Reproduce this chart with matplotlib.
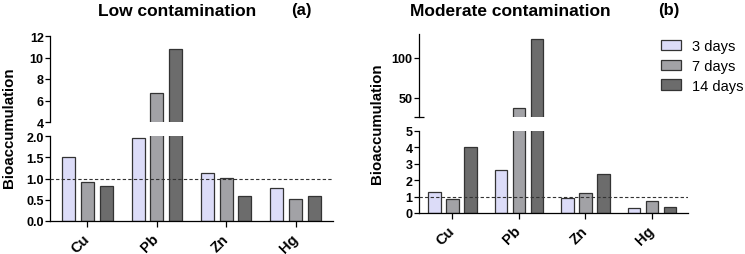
import numpy as np
import matplotlib
matplotlib.use('Agg')
import matplotlib.pyplot as plt

plt.rcParams['font.family'] = ['Liberation Sans', 'DejaVu Sans']

# data
metals = ['Cu', 'Pb', 'Zn', 'Hg']
series = ['3 days', '7 days', '14 days']
colors = ['#dcdcf8', '#a2a2a6', '#6c6c6c']

low_3d = [1.5, 1.95, 1.12, 0.78]
low_7d = [0.92, 6.7, 1.01, 0.52]
low_14d = [0.82, 10.8, 0.59, 0.60]

mod_3d = [1.3, 2.6, 0.9, 0.3]
mod_7d = [0.85, 37.5, 1.25, 0.75]
mod_14d = [4.0, 124.0, 2.4, 0.35]

W, H = 745, 255
fig = plt.figure(figsize=(W / 100, H / 100), dpi=100)


def px_axes(x0, x1, y0, y1):
    # pixel box (from top-left) -> figure axes
    return fig.add_axes([x0 / W, 1 - y1 / H, (x1 - x0) / W, (y1 - y0) / H])


def draw_panel(ax_up, ax_lo, vals, up_lim, up_ticks, lo_lim, lo_ticks, lo_fmt, xlim, cap=False):
    x = np.arange(len(metals))
    off = [-0.27, 0, 0.27]
    for ax in (ax_up, ax_lo):
        for i, v in enumerate(vals):
            ax.bar(x + off[i], v, width=0.19, color=colors[i], edgecolor='#333333',
                   linewidth=0.9, label=series[i])
        ax.set_xlim(*xlim)
        ax.spines['top'].set_visible(False)
        ax.spines['right'].set_visible(False)
        ax.tick_params(axis='y', labelsize=9, width=0.9, length=3.5, pad=1)
    ax_up.set_ylim(*up_lim)
    ax_up.set_yticks(up_ticks)
    ax_up.set_yticklabels([str(t) for t in up_ticks], fontweight='bold')
    ax_up.spines['bottom'].set_visible(False)
    ax_up.set_xticks([])
    ax_lo.set_ylim(*lo_lim)
    ax_lo.set_yticks(lo_ticks)
    ax_lo.set_yticklabels([lo_fmt.format(t) for t in lo_ticks], fontweight='bold')
    ax_lo.set_xticks(x)
    ax_lo.set_xticklabels(metals, rotation=45, ha='right', va='center', rotation_mode='anchor',
                          fontweight='bold', fontsize=10.5)
    ax_lo.tick_params(axis='x', length=4, width=0.9, pad=7)
    ax_lo.axhline(1.0, color='#333333', linestyle=(0, (3, 2)), linewidth=0.8, zorder=3)
    for ax in (ax_up, ax_lo):
        for s in ax.spines.values():
            s.set_linewidth(0.9)
    if cap:
        ax_up.set_yticks([up_lim[0]], minor=True)
        ax_up.tick_params(axis='y', which='minor', direction='inout', length=7, width=0.9)


# (a) low contamination
a_up = px_axes(50, 333, 37, 123)
a_lo = px_axes(50, 333, 137, 222)
draw_panel(a_up, a_lo, [low_3d, low_7d, low_14d], (4, 12), [4, 6, 8, 10, 12],
           (0, 2), [0, 0.5, 1.0, 1.5, 2.0], '{:.1f}', (-0.54, 3.54))

# (b) moderate contamination
b_up = px_axes(419, 688, 35, 118)
b_lo = px_axes(419, 688, 132, 214)
draw_panel(b_up, b_lo, [mod_3d, mod_7d, mod_14d], (26, 130), [50, 100],
           (0, 5), [0, 1, 2, 3, 4, 5], '{:.0f}', (-0.5, 3.54), cap=True)

fig.text(177 / W, 1 - 11 / H, 'Low contamination', ha='center', va='center',
         fontsize=12.5, fontweight='bold')
fig.text(301 / W, 1 - 11 / H, '(a)', ha='center', va='center', fontsize=12, fontweight='bold')
fig.text(510 / W, 1 - 11 / H, 'Moderate contamination', ha='center', va='center',
         fontsize=12.5, fontweight='bold')
fig.text(669 / W, 1 - 11 / H, '(b)', ha='center', va='center', fontsize=12, fontweight='bold')

fig.text(9 / W, 1 - 128 / H, 'Bioaccumulation', rotation=90, ha='center', va='center',
         fontsize=10.8, fontweight='bold')
fig.text(377 / W, 1 - 124 / H, 'Bioaccumulation', rotation=90, ha='center', va='center',
         fontsize=10.8, fontweight='bold')

handles, labels = b_lo.get_legend_handles_labels()
fig.legend(handles, labels, loc='upper left', bbox_to_anchor=(661 / W, 1 - 40 / H),
           frameon=False, fontsize=10.5, handlelength=1.4, handleheight=0.7,
           labelspacing=0.4, handletextpad=0.7, borderpad=0, borderaxespad=0)

fig.savefig('out.png', dpi=100)
